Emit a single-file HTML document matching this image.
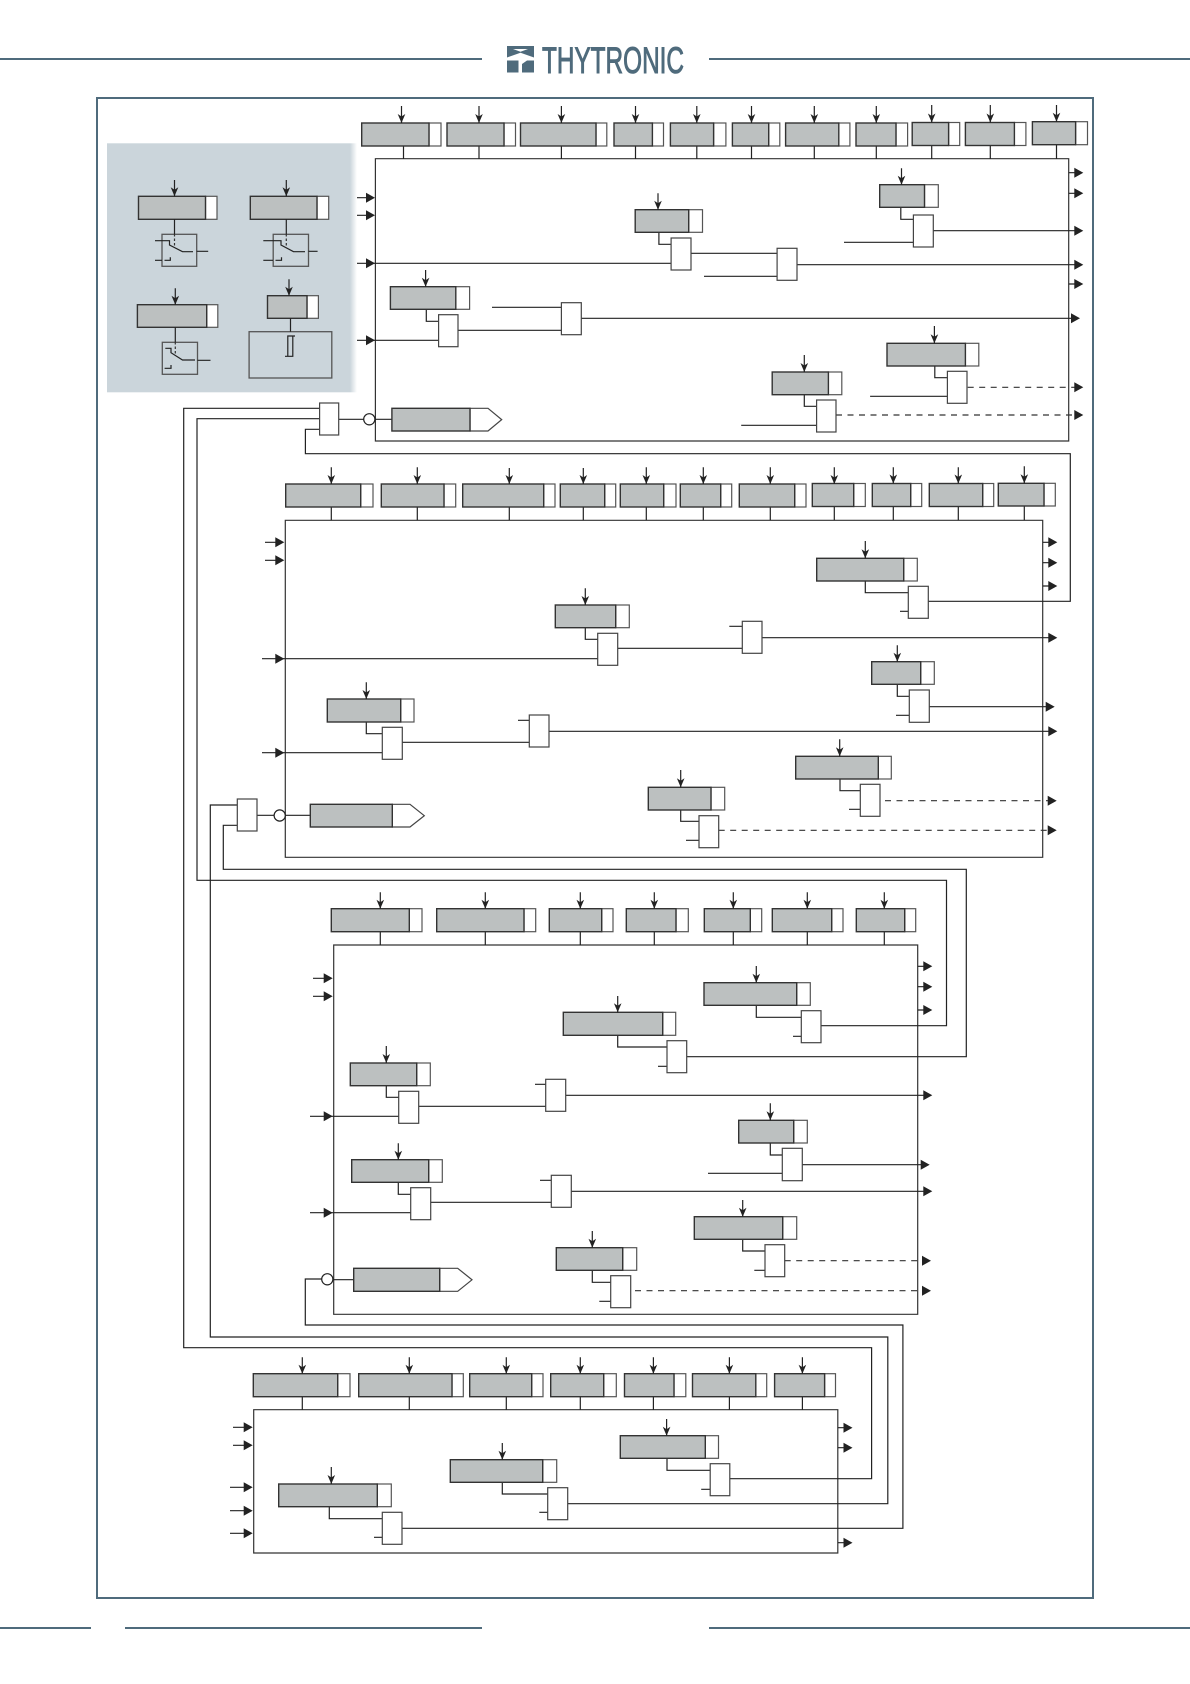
<!DOCTYPE html>
<html><head><meta charset="utf-8"><title>Diagram</title>
<style>
html,body{margin:0;padding:0;background:#fff}
svg{display:block}
.l{fill:none;stroke:#222;stroke-width:1.2}
.d{fill:none;stroke:#333;stroke-width:1.2;stroke-dasharray:6 5.5}
.h{fill:#222;stroke:none}
.g rect{fill:#bcc0c0;stroke:#333;stroke-width:1.4}
.t rect{fill:#fff;stroke:#555;stroke-width:1.2}
.w rect{fill:#fff;stroke:#444;stroke-width:1.2}
.b{fill:none;stroke:#333;stroke-width:1.2}
.m{fill:none;stroke:#4f6b7c;stroke-width:2}
</style></head><body>
<svg xmlns="http://www.w3.org/2000/svg" width="1190" height="1684" viewBox="0 0 1190 1684">
<defs><linearGradient id="pf" x1="0" y1="0" x2="1" y2="0"><stop offset="0" stop-color="#cbd5db"/><stop offset="1" stop-color="#cbd5db" stop-opacity="0"/></linearGradient></defs>
<rect width="1190" height="1684" fill="#fff"/>
<path class="m" d="M0 59H482M709 59H1190M0 1628H91M125 1628H482M709 1628H1190"/>
<rect class="m" x="97" y="98" width="996" height="1500"/>
<path fill="#4f6b7c" fill-rule="evenodd" d="M507 46H534V57.500L520.500 52.800L507 57.500ZM513 49H528L520.500 51.800ZM507 60.500H518.500V72.500H507ZM522 60.500H534V72.500H522ZM522 60.500V64L527 60.500Z"/>
<text x="542" y="73" font-family="Liberation Sans, sans-serif" font-size="37" fill="#4f6b7c" stroke="#4f6b7c" stroke-width="1" textLength="142" lengthAdjust="spacingAndGlyphs">THYTRONIC</text>
<rect x="107" y="143.300" width="243" height="249" fill="#cbd5db"/>
<rect x="350" y="143.300" width="7" height="249" fill="url(#pf)"/>

<!-- panel -->
<g class="t"><rect x="205.500" y="196.300" width="11.500" height="23"/><rect x="317" y="196.300" width="11.700" height="23"/><rect x="206.700" y="304.700" width="11.100" height="22.600"/><rect x="307" y="295.700" width="11.400" height="22.600"/></g>
<g class="g"><rect x="138.500" y="196.300" width="67" height="23"/><rect x="250.300" y="196.300" width="66.700" height="23"/><rect x="137.400" y="304.700" width="69.300" height="22.600"/><rect x="267.500" y="295.700" width="39.500" height="22.600"/></g>
<g fill="none" stroke="#555" stroke-width="1.300"><rect x="162" y="234.300" width="34.700" height="32"/><rect x="273.200" y="234.300" width="35.300" height="32"/><rect x="162.300" y="342.300" width="35.200" height="32"/><rect x="249.100" y="331.700" width="82.700" height="46.300"/></g>
<path class="l" d="M174.500 219.300V234M286.300 219.300V234M175.300 327.300V342M290.500 318.300V331.700M155 240.700H169.500V245L182.500 251.700H193M155 260.300H162M164.500 260.300H170.300V257.300M196.700 251.300H208.200M263.300 240.700H281V245L293.500 251.700H305M263.300 260.300H273M275.500 260.300H281.500V257.300M308.500 251.300H317.600M165.300 348.300H171V352.700L182.500 360H195M164.600 368.300H171V365M197.500 360.300H210.500M287.800 336H292.800V356.300H287.800ZM292.800 336H295M285 356.300H287.800"/>
<path class="d" style="stroke-dasharray:2.500 2" d="M174.500 234V246M286.300 234V246M175.300 342V354"/>

<!-- blocks -->
<path class="b" d="M375.400 158.700H1068.700V441H375.400ZM285.300 520.300H1042.700V857.300H285.300ZM333.700 945H917.700V1314.300H333.700ZM253.700 1409.700H837.800V1553H253.700Z"/>

<!-- wires -->
<path class="l" d="M319.600 408.300H183.700V1347.700H871.600V1478.700H729.800
M319.600 418.700H197V880.300H946.500V1025.700H821
M319.600 429.300H305.400V453.700H1070.300V601.300H928.300
M237.300 805H210.300V1337H887.800V1503.700H567.700
M237.300 825.300H223.300V869.300H966.300V1056.700H686.700
M321.700 1279H305.300V1325H902.900V1528.300H402
M403.500 146V159M479 146V159M561.400 146V159M635.500 146V159M696.800 146V159M751.500 146V159M814.300 146V159M876.300 146V159M931.700 146V159M990.300 146V159M1056.500 145V159
M331.300 507V520.300M417.300 507V520.300M509.300 507V520.300M583.300 507V520.300M646.300 507V520.300M703.300 507V520.300M770.300 507V520.300M834.300 507V520.300M893.300 507V520.300M958.300 507V520.300M1024.300 506V520.300
M380.300 931.700V945M485.300 931.700V945M580.300 931.700V945M654.300 931.700V945M733.300 931.700V945M807.300 931.700V945M884.300 931.700V945
M302.300 1396.700V1409.700M409.300 1396.700V1409.700M506.300 1396.700V1409.700M580.300 1396.700V1409.700M653.400 1396.700V1409.700M729.400 1396.700V1409.700M802.400 1396.700V1409.700
M357 197.700H368M357 215.300H368M357 263.300H671.100M357 340.300H438.600M426.300 309.300V321.300H438.600M458 330.300H561.400M492 307.300H561.400M581.300 318.300H1073
M1068.700 172.700H1076M1068.700 193.300H1076M1068.700 284H1076M933.300 230.700H1076M900.800 207.300V219.300H913.400M844 242.300H913.400M658.900 232.300V244.300H671.100M691 253.300H777.100M704 276.300H777.100M797 264.700H1076
M934.800 366V377.700H947.400M870.100 396.300H947.400M804.300 394.700V406.300H816.600M741.200 425.300H816.600M338.700 419.300H363.600M375 419.300H392
M265 542.300H277M265 560.300H277M262 658.700H597.700M262 752.700H382.300M585.300 627.700V639.300H597.700M617.700 648.300H742.300M729.300 626.300H742.300M762 637.700H1050M366.300 722V733.700H382.300M402.300 742.300H529.300M518 720.300H529.300M549 731.300H1050M257 815.300H274M285 815.300H310.300
M1042.700 542.300H1050M1042.700 562.700H1050M1042.700 586H1050M865.300 581V592.700H908.300M900 611.300H908.300M897.300 684.300V696.300H909.300M896 715.300H909.300M929.300 706.700H1047M840 779V790.700H860.300M849 809.300H860.300M680.700 810V821.300H699M686 840.300H699
M313 978.300H325M313 996.300H325M310 1116.300H398.700M310 1212.700H410.700M386.300 1085.700V1097.300H398.700M418.700 1106.300H545.700M535 1084.300H545.700M565.700 1095.300H924M398.300 1182.300V1194.300H410.700M430.700 1202.300H551.300M540 1180.300H551.300M571.300 1191.300H924M333 1279.700H353.700
M617.700 1035.300V1047H667M658 1066.300H667M756.300 1005.300V1017.300H801.300M793 1036.300H801.300M917.700 966.300H925M917.700 986.700H925M917.700 1010H925M770.300 1143V1155H782.300M708 1173.300H782.300M802.300 1164.700H922M742.700 1239.300V1251H765M754.300 1270.300H765M592.300 1270.300V1282.300H610.700M599.300 1301.300H610.700
M233 1427.300H245M233 1445.300H245M230 1487.300H245M230 1510.700H245M230 1533.300H245M837.800 1427.700H845M837.800 1447.700H845M837.800 1542.700H845M329.300 1506.700V1518.700H382.300M374 1537.300H382.300M502.300 1482.300V1494H547.700M539.300 1512.300H547.700M667 1458.300V1470.300H710.200M701.200 1489.300H710.200"/>
<path class="d" d="M967.700 387.300H1075M836 415H1075M885 800.700H1049M718.700 830.300H1049M784.700 1260.700H923M635 1290.700H923"/>

<!-- tabs -->
<g class="t">
<rect x="429" y="123" width="12" height="23"/><rect x="504" y="123" width="11.500" height="23"/><rect x="596" y="123" width="10.800" height="23"/><rect x="652.400" y="123" width="11.100" height="23"/><rect x="713.600" y="123" width="12.300" height="23"/><rect x="768.700" y="123" width="11.100" height="23"/><rect x="838.800" y="123" width="11.100" height="23"/><rect x="896" y="123" width="11.600" height="23"/><rect x="948.600" y="122.500" width="11.100" height="23"/><rect x="1014.400" y="122.500" width="11.500" height="23"/><rect x="1075.600" y="121.700" width="11.900" height="23"/>
<rect x="455.800" y="286.700" width="13.800" height="22.600"/><rect x="924.500" y="184.700" width="13.800" height="22.600"/><rect x="688.700" y="209.700" width="13.800" height="22.600"/><rect x="965.400" y="343.300" width="13.400" height="22.700"/><rect x="828.400" y="372" width="13.400" height="22.700"/>
<rect x="360.700" y="484" width="12.300" height="23"/><rect x="444" y="484" width="11.700" height="23"/><rect x="543.700" y="484" width="11.300" height="23"/><rect x="604.700" y="484" width="11" height="23"/><rect x="663.700" y="484" width="12.300" height="23"/><rect x="720.700" y="484" width="11" height="23"/><rect x="794.700" y="484" width="11.300" height="23"/><rect x="853.700" y="483.500" width="11.600" height="23"/><rect x="910.700" y="483.500" width="11" height="23"/><rect x="982.700" y="483.500" width="11" height="23"/><rect x="1044" y="483.300" width="11.300" height="22.700"/>
<rect x="615.700" y="605" width="13.600" height="22.700"/><rect x="400.700" y="699" width="13.300" height="23"/><rect x="903.700" y="558.300" width="13.600" height="22.700"/><rect x="920.700" y="661.700" width="13.600" height="22.600"/><rect x="878.300" y="756.300" width="13" height="22.700"/><rect x="711" y="787.300" width="13.700" height="22.700"/>
<rect x="409.300" y="908.700" width="12.700" height="23"/><rect x="524" y="908.700" width="11.700" height="23"/><rect x="601.700" y="908.700" width="11.300" height="23"/><rect x="676" y="908.700" width="12.300" height="23"/><rect x="750.300" y="908.700" width="11.400" height="23"/><rect x="831.700" y="908.700" width="11.300" height="23"/><rect x="904.700" y="908.700" width="11" height="23"/>
<rect x="416.700" y="1063" width="13.600" height="22.700"/><rect x="428.700" y="1159.700" width="13.600" height="22.600"/><rect x="662.700" y="1012.300" width="13" height="23"/><rect x="796.700" y="982.700" width="13.600" height="22.600"/><rect x="793.700" y="1120.300" width="13.600" height="22.700"/><rect x="782.700" y="1216.700" width="14" height="22.600"/><rect x="622.700" y="1247.700" width="14" height="22.600"/>
<rect x="337.700" y="1373.700" width="12.300" height="23"/><rect x="452" y="1373.700" width="11.300" height="23"/><rect x="531.700" y="1373.700" width="11.300" height="23"/><rect x="603.700" y="1373.700" width="12.600" height="23"/><rect x="674" y="1373.700" width="11.800" height="23"/><rect x="755.800" y="1373.700" width="10.900" height="23"/><rect x="824.600" y="1373.700" width="10.900" height="23"/>
<rect x="377.300" y="1484" width="14" height="22.700"/><rect x="542.700" y="1459.700" width="14" height="22.600"/><rect x="705.300" y="1435.700" width="13.200" height="22.600"/>
</g>
<!-- pills -->
<path fill="#fff" stroke="#444" stroke-width="1.200" d="M470 408.300H488L501.700 419.600L488 431H470ZM392.300 804.300H410L424.300 815.700L410 827H392.300ZM439.700 1268.300H457.700L472 1279.800L457.700 1291.300H439.700Z"/>
<!-- gray -->
<g class="g">
<rect x="361.700" y="123" width="67.300" height="23"/><rect x="447" y="123" width="57" height="23"/><rect x="520.500" y="123" width="75.500" height="23"/><rect x="614" y="123" width="38.400" height="23"/><rect x="670.400" y="123" width="43.200" height="23"/><rect x="732.400" y="123" width="36.300" height="23"/><rect x="785.600" y="123" width="53.200" height="23"/><rect x="856" y="123" width="40" height="23"/><rect x="912.200" y="122.500" width="36.400" height="23"/><rect x="965.400" y="122.500" width="49" height="23"/><rect x="1032.400" y="121.700" width="43.200" height="23"/>
<rect x="390.400" y="286.700" width="65.400" height="22.600"/><rect x="879.700" y="184.700" width="44.800" height="22.600"/><rect x="635.200" y="209.700" width="53.500" height="22.600"/><rect x="887" y="343.300" width="78.400" height="22.700"/><rect x="772.200" y="372" width="56.200" height="22.700"/><rect x="391.900" y="408.300" width="78.100" height="22.700"/>
<rect x="285.700" y="484" width="75" height="23"/><rect x="381.300" y="484" width="62.700" height="23"/><rect x="462.700" y="484" width="81" height="23"/><rect x="560.300" y="484" width="44.400" height="23"/><rect x="620.300" y="484" width="43.400" height="23"/><rect x="680.300" y="484" width="40.400" height="23"/><rect x="739.300" y="484" width="55.400" height="23"/><rect x="812.300" y="483.500" width="41.400" height="23"/><rect x="872.300" y="483.500" width="38.400" height="23"/><rect x="929.300" y="483.500" width="53.400" height="23"/><rect x="998.300" y="483.300" width="45.700" height="22.700"/>
<rect x="555.300" y="605" width="60.400" height="22.700"/><rect x="327.300" y="699" width="73.400" height="23"/><rect x="816.700" y="558.300" width="87" height="22.700"/><rect x="871.700" y="661.700" width="49" height="22.600"/><rect x="795.700" y="756.300" width="82.600" height="22.700"/><rect x="648.300" y="787.300" width="62.700" height="22.700"/><rect x="310.300" y="804.300" width="82" height="22.700"/>
<rect x="331.300" y="908.700" width="78" height="23"/><rect x="436.700" y="908.700" width="87.300" height="23"/><rect x="549.300" y="908.700" width="52.400" height="23"/><rect x="626.300" y="908.700" width="49.700" height="23"/><rect x="704.300" y="908.700" width="46" height="23"/><rect x="772.300" y="908.700" width="59.400" height="23"/><rect x="856.300" y="908.700" width="48.400" height="23"/>
<rect x="350.300" y="1063" width="66.400" height="22.700"/><rect x="351.700" y="1159.700" width="77" height="22.600"/><rect x="563.300" y="1012.300" width="99.400" height="23"/><rect x="704" y="982.700" width="92.700" height="22.600"/><rect x="738.700" y="1120.300" width="55" height="22.700"/><rect x="694.300" y="1216.700" width="88.400" height="22.600"/><rect x="556.300" y="1247.700" width="66.400" height="22.600"/><rect x="353.700" y="1268.300" width="86" height="23"/>
<rect x="253.300" y="1373.700" width="84.400" height="23"/><rect x="358.700" y="1373.700" width="93.300" height="23"/><rect x="469.700" y="1373.700" width="62" height="23"/><rect x="550.700" y="1373.700" width="53" height="23"/><rect x="624.500" y="1373.700" width="49.500" height="23"/><rect x="692.500" y="1373.700" width="63.300" height="23"/><rect x="774.600" y="1373.700" width="50" height="23"/>
<rect x="278.700" y="1484" width="98.600" height="22.700"/><rect x="450.300" y="1459.700" width="92.400" height="22.600"/><rect x="620.300" y="1435.700" width="85" height="22.600"/>
</g>
<!-- gates -->
<g class="w">
<rect x="438.600" y="314.700" width="19.400" height="32"/><rect x="561.400" y="302.700" width="19.900" height="32"/><rect x="319.600" y="403" width="19.100" height="32"/><rect x="913.400" y="215" width="19.900" height="32"/><rect x="671.100" y="238" width="19.900" height="32"/><rect x="777.100" y="248.300" width="19.900" height="32"/><rect x="947.400" y="371.300" width="19.600" height="32"/><rect x="816.600" y="400" width="19.400" height="32"/>
<rect x="597.700" y="633.300" width="20" height="32"/><rect x="742.300" y="621.300" width="19.700" height="32"/><rect x="382.300" y="727.300" width="20" height="32"/><rect x="529.300" y="715" width="19.700" height="32"/><rect x="237.300" y="799" width="19.700" height="32"/><rect x="908.300" y="586.300" width="20" height="32"/><rect x="909.300" y="690" width="20" height="32.300"/><rect x="860.300" y="784.300" width="19.700" height="32"/><rect x="699" y="815.700" width="19.700" height="32"/>
<rect x="398.700" y="1091.300" width="20" height="32"/><rect x="545.700" y="1079.300" width="20" height="32"/><rect x="410.700" y="1187.700" width="20" height="32"/><rect x="551.300" y="1175.300" width="20" height="32"/><rect x="667" y="1040.700" width="19.700" height="32"/><rect x="801.300" y="1010.700" width="19.700" height="32"/><rect x="782.300" y="1148.300" width="20" height="32.400"/><rect x="765" y="1244.700" width="19.700" height="32"/><rect x="610.700" y="1275.700" width="20" height="32"/>
<rect x="382.300" y="1512.300" width="19.700" height="32"/><rect x="547.700" y="1487.700" width="20" height="32"/><rect x="710.200" y="1463.700" width="19.600" height="32"/>
</g>
<circle cx="369.300" cy="419.300" r="5.600" fill="#fff" stroke="#222" stroke-width="1.200"/>
<circle cx="279.700" cy="815.500" r="5.600" fill="#fff" stroke="#222" stroke-width="1.200"/>
<circle cx="327.300" cy="1279.300" r="5.600" fill="#fff" stroke="#222" stroke-width="1.200"/>

<!-- down arrow stems -->
<path class="l" d="M401.500 106V123M479 106V123M561.400 106V123M635.500 106V123M696.800 106V123M751.500 106V123M814.300 106V123M876.300 106V123M931.700 105V122.500M990.300 105V122.500M1056.500 105V121.700M174.500 180V196.300M286.300 180V196.300M175.300 288.300V304.700M289 279.300V295.700M425.600 270V286.700M901.500 168.300V184.700M658 193.300V209.700M934.400 326V343.300M804.300 355V372M331.300 467.300V484M417.300 467.300V484M509.300 468V484M583.300 468V484M646.300 467.300V484M703.300 467.300V484M770.300 467.300V484M834.300 467.300V484M893.300 467.300V483.500M958.300 467.300V483.500M1024.300 466.300V483.300M585.300 588.300V605M366.300 682.300V699M865.300 541V558.300M897.300 645.300V661.700M839.700 739.300V756.300M680.700 770V787.300M380.300 892.300V908.700M485.300 892.300V908.700M580.300 892.300V908.700M654.300 892.300V908.700M733.300 892.300V908.700M807.300 892.300V908.700M884.300 892.300V908.700M386.300 1046V1063M398.300 1143.300V1159.700M617.700 996V1012.300M756.300 966V982.700M770.300 1103.300V1120.300M742.700 1200V1216.700M592.300 1231V1247.700M302.300 1357.300V1373.700M409.300 1357.300V1373.700M506.300 1357.300V1373.700M580.300 1357.300V1373.700M653.400 1357.300V1373.700M729.400 1357.300V1373.700M802.400 1357.300V1373.700M331.300 1467V1484M502.300 1443V1459.700M666.600 1419V1435.700"/>
<!-- heads: down + right -->
<path class="h" d="M401.500 123l-3.800-9 3.800 2.500 3.800-2.500zM479 123l-3.800-9 3.800 2.500 3.800-2.500zM561.400 123l-3.800-9 3.800 2.500 3.800-2.500zM635.500 123l-3.800-9 3.800 2.500 3.800-2.500zM696.800 123l-3.800-9 3.800 2.500 3.800-2.500zM751.500 123l-3.800-9 3.800 2.500 3.800-2.500zM814.300 123l-3.800-9 3.800 2.500 3.800-2.500zM876.300 123l-3.800-9 3.800 2.500 3.800-2.500zM931.700 122.500l-3.800-9 3.800 2.500 3.800-2.500zM990.300 122.500l-3.800-9 3.800 2.500 3.800-2.500zM1056.500 121.700l-3.800-9 3.800 2.500 3.800-2.500z
M174.500 196.300l-3.800-9 3.800 2.500 3.800-2.500zM286.300 196.300l-3.800-9 3.800 2.500 3.800-2.500zM175.300 304.700l-3.800-9 3.800 2.500 3.800-2.500zM289 295.700l-3.800-9 3.800 2.500 3.800-2.500zM425.600 286.700l-3.800-9 3.800 2.500 3.800-2.500zM901.500 184.700l-3.800-9 3.800 2.500 3.800-2.500zM658 209.700l-3.800-9 3.800 2.500 3.800-2.500zM934.400 343.300l-3.800-9 3.800 2.500 3.800-2.500zM804.300 372l-3.800-9 3.800 2.500 3.800-2.500z
M331.300 484l-3.800-9 3.800 2.500 3.800-2.500zM417.300 484l-3.800-9 3.800 2.500 3.800-2.500zM509.300 484l-3.800-9 3.800 2.500 3.800-2.500zM583.300 484l-3.800-9 3.800 2.500 3.800-2.500zM646.300 484l-3.800-9 3.800 2.500 3.800-2.500zM703.300 484l-3.800-9 3.800 2.500 3.800-2.500zM770.300 484l-3.800-9 3.800 2.500 3.800-2.500zM834.300 484l-3.800-9 3.800 2.500 3.800-2.500zM893.300 483.500l-3.800-9 3.800 2.500 3.800-2.500zM958.300 483.500l-3.800-9 3.800 2.500 3.800-2.500zM1024.300 483.300l-3.800-9 3.800 2.500 3.800-2.500zM585.300 605l-3.800-9 3.800 2.500 3.800-2.500zM366.300 699l-3.800-9 3.800 2.500 3.800-2.500zM865.300 558.300l-3.800-9 3.800 2.500 3.800-2.500zM897.300 661.700l-3.800-9 3.800 2.500 3.800-2.500zM839.700 756.300l-3.800-9 3.800 2.500 3.800-2.500zM680.700 787.300l-3.800-9 3.800 2.500 3.800-2.500z
M380.300 908.700l-3.800-9 3.800 2.500 3.800-2.500zM485.300 908.700l-3.800-9 3.800 2.500 3.800-2.500zM580.300 908.700l-3.800-9 3.800 2.500 3.800-2.500zM654.300 908.700l-3.800-9 3.800 2.500 3.800-2.500zM733.300 908.700l-3.800-9 3.800 2.500 3.800-2.500zM807.300 908.700l-3.800-9 3.800 2.500 3.800-2.500zM884.300 908.700l-3.800-9 3.800 2.500 3.800-2.500zM386.300 1063l-3.800-9 3.800 2.500 3.800-2.500zM398.300 1159.700l-3.800-9 3.800 2.500 3.800-2.500zM617.700 1012.300l-3.800-9 3.800 2.500 3.800-2.500zM756.300 982.700l-3.800-9 3.800 2.500 3.800-2.500zM770.300 1120.300l-3.800-9 3.800 2.500 3.800-2.500zM742.700 1216.700l-3.800-9 3.800 2.500 3.800-2.500zM592.300 1247.700l-3.800-9 3.800 2.500 3.800-2.500z
M302.300 1373.700l-3.800-9 3.800 2.500 3.800-2.500zM409.300 1373.700l-3.800-9 3.800 2.500 3.800-2.500zM506.300 1373.700l-3.800-9 3.800 2.500 3.800-2.500zM580.300 1373.700l-3.800-9 3.800 2.500 3.800-2.500zM653.400 1373.700l-3.800-9 3.800 2.500 3.800-2.500zM729.400 1373.700l-3.800-9 3.800 2.500 3.800-2.500zM802.400 1373.700l-3.800-9 3.800 2.500 3.800-2.500zM331.300 1484l-3.800-9 3.800 2.500 3.800-2.500zM502.300 1459.700l-3.800-9 3.800 2.500 3.800-2.500zM666.600 1435.700l-3.800-9 3.800 2.500 3.800-2.500z
M366 192.700l9 5-9 5zM366 210.300l9 5-9 5zM366 258.300l9 5-9 5zM366 335.300l9 5-9 5z
M1074.300 167.700l9 5-9 5zM1074.300 188.300l9 5-9 5zM1074.300 225.700l9 5-9 5zM1074.300 259.700l9 5-9 5zM1074.300 279l9 5-9 5zM1074.300 382.300l9 5-9 5zM1074.300 410l9 5-9 5zM1071 313.300l9 5-9 5z
M275.300 537.300l9 5-9 5zM275.300 555.300l9 5-9 5zM275.300 653.700l9 5-9 5zM275.300 747.700l9 5-9 5z
M1048.300 537.300l9 5-9 5zM1048.300 557.700l9 5-9 5zM1048.300 581l9 5-9 5zM1048.300 632.700l9 5-9 5zM1048.300 726.300l9 5-9 5zM1047.700 795.700l9 5-9 5zM1047.700 825.300l9 5-9 5zM1045.700 701.700l9 5-9 5z
M323.700 973.300l9 5-9 5zM323.700 991.300l9 5-9 5zM323.700 1111.300l9 5-9 5zM323.700 1207.700l9 5-9 5z
M923.300 961.300l9 5-9 5zM923.300 981.700l9 5-9 5zM923.300 1005l9 5-9 5zM923.300 1090.300l9 5-9 5zM923.300 1186.300l9 5-9 5zM922 1255.700l9 5-9 5zM922 1285.700l9 5-9 5zM920.700 1159.700l9 5-9 5z
M243.700 1422.300l9 5-9 5zM243.700 1440.300l9 5-9 5zM243.700 1482.300l9 5-9 5zM243.700 1505.700l9 5-9 5zM243.700 1528.300l9 5-9 5z
M843.500 1422.700l9 5-9 5zM843.500 1442.700l9 5-9 5zM843.500 1537.700l9 5-9 5z"/>
</svg>
</body></html>
